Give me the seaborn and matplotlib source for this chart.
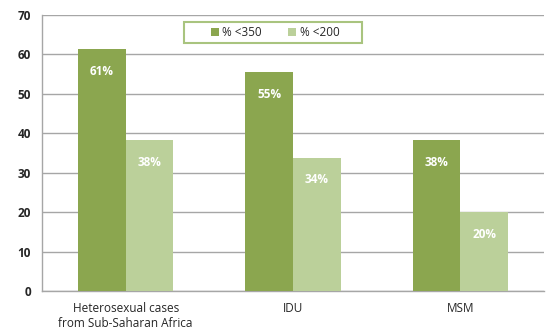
import matplotlib
matplotlib.use("Agg")
import matplotlib.pyplot as plt
from matplotlib.patches import Rectangle
import seaborn as sns
import pandas as pd

categories = ["Heterosexual cases\nfrom Sub-Saharan Africa", "IDU", "MSM"]
series = ["% <350", "% <200"]
cd4_350 = [61.4, 55.5, 38.3]
cd4_200 = [38.3, 33.8, 20.0]
labels_350 = ["61%", "55%", "38%"]
labels_200 = ["38%", "34%", "20%"]

df = pd.DataFrame({
    "group": categories * 2,
    "series": [series[0]] * 3 + [series[1]] * 3,
    "value": cd4_350 + cd4_200,
})

sns.set_style("white")
plt.rcParams["font.family"] = ["Open Sans", "DejaVu Sans"]

W, H = 548, 334
fig = plt.figure(figsize=(W / 100, H / 100), dpi=100)
ax = fig.add_axes([42 / W, 1 - 291 / H, (544 - 42) / W, (291 - 15) / H])

palette = ["#8BA64F", "#BBD09A"]
sns.barplot(data=df, x="group", y="value", hue="series", palette=palette,
            width=0.57, saturation=1, linewidth=0, ax=ax, zorder=3)

ax.set_ylim(0, 70)
ax.set_xlim(-0.5, 2.5)
ax.set_yticks(range(0, 71, 10))
ax.yaxis.grid(True, color="#A6A6A6", linewidth=1, zorder=0)
ax.set_xlabel("")
ax.set_ylabel("")

for s in ["top", "right"]:
    ax.spines[s].set_visible(False)
for s in ["left", "bottom"]:
    ax.spines[s].set_color("#A6A6A6")
    ax.spines[s].set_linewidth(1)

ax.tick_params(axis="y", length=4, color="#A6A6A6", labelsize=8.5, pad=4)
for t in ax.get_yticklabels():
    t.set_fontweight("bold")
ax.set_xticks([0, 1, 2])
ax.set_xticklabels(categories, fontsize=8.5)
ax.tick_params(axis="x", length=0, pad=8)
ax.set_xticks([-0.5, 0.5, 1.5, 2.5], minor=True)
ax.tick_params(axis="x", which="minor", length=4, color="#A6A6A6")

for container, labels in zip(ax.containers, [labels_350, labels_200]):
    for bar, lab in zip(container, labels):
        ax.annotate(lab, (bar.get_x() + bar.get_width() / 2, bar.get_height()),
                    xytext=(0, -16), textcoords="offset points",
                    ha="center", va="center", color="white",
                    fontsize=8.5, fontweight="bold", zorder=5)

# legend entries without frame, boxed by a wider rectangle
ax.get_legend().remove()
handles, lbls = ax.get_legend_handles_labels()
leg = fig.legend(handles, lbls, loc="center",
                 bbox_to_anchor=(275 / W, 1 - 32.5 / H), ncol=2,
                 frameon=False, fontsize=8.5,
                 handlelength=0.7, handleheight=0.7, handletextpad=0.3,
                 columnspacing=2.2, borderpad=0)
fig.patches.append(Rectangle((184 / W, 1 - 43 / H), (362 - 184) / W, 21 / H,
                             transform=fig.transFigure, fill=True,
                             facecolor="white", edgecolor="#A9C47F",
                             linewidth=1.5, zorder=4))
leg.set_zorder(6)

fig.savefig("out.png", dpi=100, facecolor="white")
